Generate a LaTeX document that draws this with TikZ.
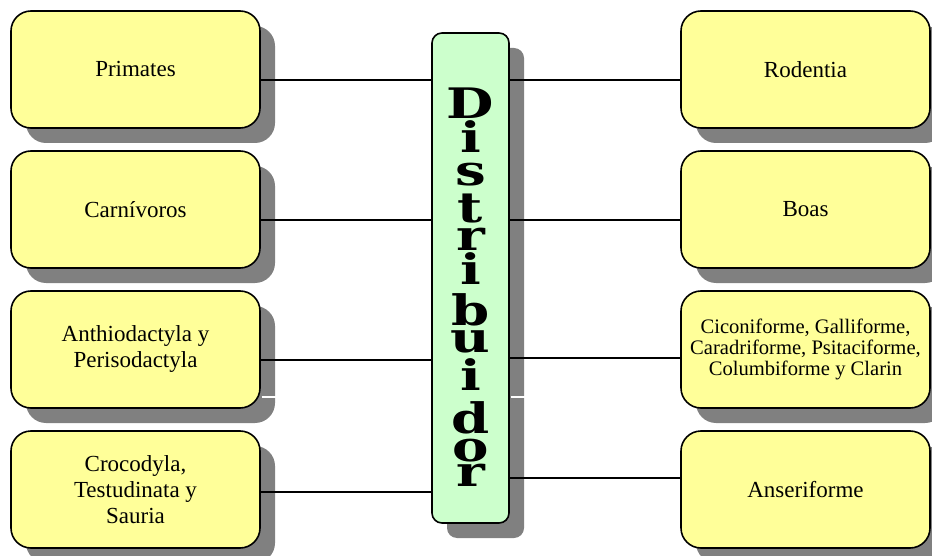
\documentclass[tikz,border=0pt]{standalone}
\usepackage{fontspec}
\setmainfont{Liberation Serif}
\newfontfamily\distfont[FakeStretch=1.3]{DejaVu Serif}
\usetikzlibrary{shadows}
\definecolor{boxyellow}{HTML}{FFFF99}
\definecolor{boxgreen}{HTML}{CCFFCC}
\definecolor{shadowgray}{HTML}{808080}
\newcommand\distletter[1]{\hbox to 70pt{\hss\smash{#1}\hss}}
\newcommand\diststack{\vbox{\offinterlineskip
  \distletter{D}\kern34pt
  \distletter{i}\kern33pt
  \distletter{s}\kern37pt
  \distletter{t}\kern28pt
  \distletter{r}\kern34pt
  \distletter{i}\kern41pt
  \distletter{b}\kern27pt
  \distletter{u}\kern38pt
  \distletter{i}\kern43pt
  \distletter{d}\kern28pt
  \distletter{o}\kern25pt
  \distletter{r}}}
\tikzset{
  shadowed/.style={drop shadow={shadow xshift=15pt, shadow yshift=-15pt, fill=shadowgray, opacity=1}},
  leafbox/.style={shadowed, draw=black, line width=1.6pt, fill=boxyellow, rounded corners=20pt,
    minimum width=249pt, minimum height=117pt, inner sep=0pt, align=center,
    font=\fontsize{23}{26}\selectfont},
  hubbox/.style={shadowed, draw=black, line width=1.6pt, fill=boxgreen, rounded corners=10pt,
    minimum width=77pt, minimum height=490pt, inner sep=0pt},
  stacktext/.style={inner sep=0pt, font=\distfont\bfseries\fontsize{42}{42}\selectfont},
  link/.style={draw=black, line width=1.3pt},
  gap/.style={draw=white, line width=1.2pt}
}
\begin{document}
\begin{tikzpicture}[x=1pt, y=-1pt]
\useasboundingbox (0,0) rectangle (932,556);
% hub
\node[hubbox] (dist) at (470.5,278) {};
% left boxes
\node[leafbox] (l1) at (135.5,69.5) {Primates};
\node[leafbox] (l2) at (135.5,209.5) {Carnívoros};
\node[leafbox] (l3) at (135.5,349.5) {Anthiodactyla y\\Perisodactyla};
\node[leafbox] (l4) at (135.5,489.5) {Crocodyla,\\Testudinata y\\Sauria};
% right boxes
\node[leafbox] (r1) at (805.5,69.5) {Rodentia};
\node[leafbox] (r2) at (805.5,209.5) {Boas};
\node[leafbox, font=\fontsize{20.6}{21}\selectfont] (r3) at (805.5,349.5) {Ciconiforme, Galliforme,\\Caradriforme, Psitaciforme,\\Columbiforme y Clarin};
\node[leafbox] (r4) at (805.5,489.5) {Anseriforme};
% hub label, letters stacked
\node[stacktext, anchor=base] (label) at (470.5,486) {\diststack};
% connectors
\draw[link] (l1.east |- 0,80) -- (dist.west |- 0,80);
\draw[link] (l2.east |- 0,220) -- (dist.west |- 0,220);
\draw[link] (l3.east |- 0,360) -- (dist.west |- 0,360);
\draw[link] (l4.east |- 0,492) -- (dist.west |- 0,492);
\draw[link] (dist.east |- 0,80) -- (r1.west |- 0,80);
\draw[link] (dist.east |- 0,220) -- (r2.west |- 0,220);
\draw[link] (dist.east |- 0,358) -- (r3.west |- 0,358);
\draw[link] (dist.east |- 0,478) -- (r4.west |- 0,478);
% white gaps across shadows
\draw[gap] (261.5,397) -- (276,397);
\draw[gap] (510.5,397) -- (525,397);
\end{tikzpicture}
\end{document}
